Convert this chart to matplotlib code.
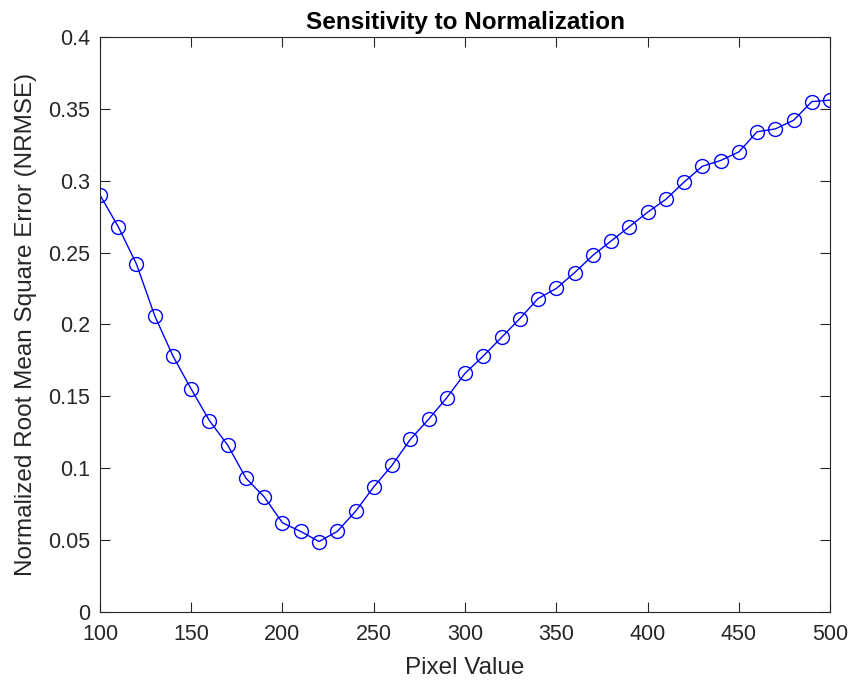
import matplotlib
matplotlib.use("Agg")
import matplotlib.pyplot as plt
from matplotlib.ticker import FuncFormatter

# Pixel value vs normalization error
pixel_values = list(range(100, 501, 10))
nrmse = [
    0.290, 0.268, 0.242, 0.206, 0.178, 0.155, 0.133, 0.116, 0.093, 0.080,
    0.062, 0.056, 0.049, 0.056, 0.070, 0.087, 0.102, 0.120, 0.134, 0.149,
    0.166, 0.178, 0.191, 0.204, 0.218, 0.225, 0.236, 0.248, 0.258, 0.268,
    0.278, 0.287, 0.299, 0.310, 0.314, 0.320, 0.334, 0.336, 0.342, 0.355,
    0.356,
]
x_ticks = [100, 150, 200, 250, 300, 350, 400, 450, 500]
y_ticks = [0, 0.05, 0.1, 0.15, 0.2, 0.25, 0.3, 0.35, 0.4]

plt.rcParams["font.family"] = ["Liberation Sans", "DejaVu Sans"]

fig = plt.figure(figsize=(8.5, 6.83), dpi=100)
ax = fig.add_axes([0.1176, 0.104, 0.859, 0.842])

ax.plot(pixel_values, nrmse, color="#0000ff", linewidth=1.0,
        marker="o", markersize=10, markerfacecolor="none",
        markeredgecolor="#0000ff", markeredgewidth=1.0)

ax.set_xlim(100, 500)
ax.set_ylim(0, 0.4)
ax.set_xticks(x_ticks)
ax.set_yticks(y_ticks)
ax.yaxis.set_major_formatter(FuncFormatter(lambda v, p: f"{v:g}"))

# MATLAB-like box with inward ticks on all sides
for s in ax.spines.values():
    s.set_color("#262626")
    s.set_linewidth(0.8)
ax.tick_params(direction="in", top=True, right=True, length=7,
               width=0.8, color="#262626", labelsize=15.5,
               labelcolor="#262626")
ax.tick_params(axis="x", pad=9)
ax.tick_params(axis="y", pad=7)

ax.set_title("Sensitivity to Normalization", fontsize=17.5,
             fontweight="bold", pad=6)
ax.set_xlabel("Pixel Value", fontsize=17.5, color="#262626", labelpad=8)
ax.set_ylabel("Normalized Root Mean Square Error (NRMSE)", fontsize=17.5,
              color="#262626", labelpad=8)

fig.savefig("out.png", dpi=100)
